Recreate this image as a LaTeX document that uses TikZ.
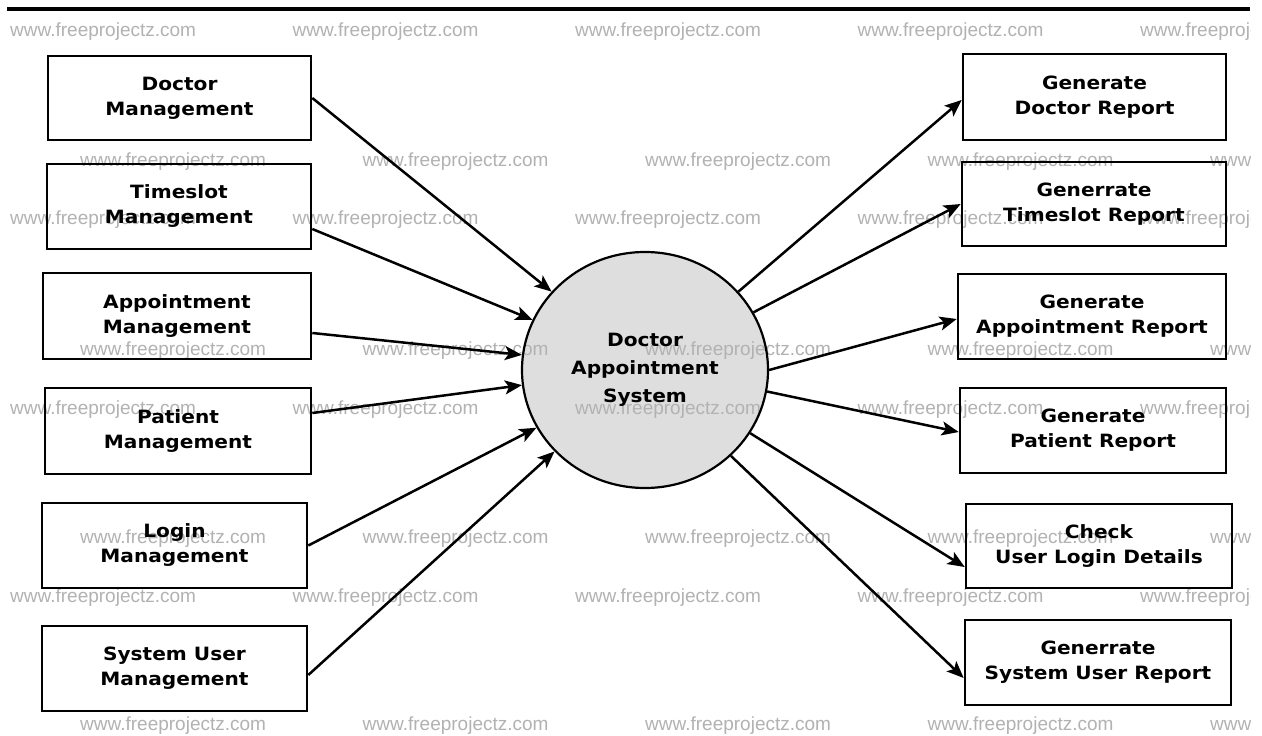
\documentclass[tikz,border=0pt]{standalone}
\usepackage{fontspec}
\newfontfamily\boxfont{DejaVu Sans}[FakeStretch=1.1]
\newfontfamily\wmfont{Liberation Sans}
\usetikzlibrary{arrows.meta,shapes.geometric}
\pgfdeclarelayer{bg}
\pgfdeclarelayer{wm}
\pgfsetlayers{bg,wm,main}
\begin{document}
\begin{tikzpicture}[x=1pt,y=-1pt,
  procbox/.style={draw, line width=2.6pt, inner sep=0pt, minimum height=85pt,
    minimum width=265pt, align=center,
    font=\boxfont\bfseries\fontsize{18.3}{25}\selectfont},
  flow/.style={line width=2.5pt, -{Stealth[length=17pt,width=14pt,inset=4pt]}},
  wmark/.style={anchor=base west, inner sep=0pt, text=black!30,
    font=\wmfont\fontsize{19}{20}\selectfont}]
\useasboundingbox (0,0) rectangle (1262,736);
\begin{pgfonlayer}{bg}
\fill[white] (0,0) rectangle (1262,736);
\end{pgfonlayer}
\draw[line width=3.5pt] (7,9) -- (1250,9);

% left boxes
\node[procbox, minimum width=263pt, minimum height=84pt] (dm) at (179.5,98) {Doctor\\Management};
\node[procbox, minimum width=264pt] (tm) at (179,206.5) {Timeslot\\Management};
\node[procbox, minimum width=268pt, minimum height=86pt] (am) at (177,316) {Appointment\\Management};
\node[procbox, minimum width=266pt, minimum height=86pt] (pm) at (178,431) {Patient\\Management};
\node[procbox] (lm) at (174.5,545.5) {Login\\Management};
\node[procbox] (sm) at (174.5,668.5) {System User\\Management};

% right boxes
\node[procbox, minimum width=263pt, minimum height=86pt] (dr) at (1094.5,97) {Generate\\Doctor Report};
\node[procbox, minimum width=264pt, minimum height=84pt] (tr) at (1094,204) {Generrate\\Timeslot Report};
\node[procbox, minimum width=268pt] (ar) at (1092,316.5) {Generate\\Appointment Report};
\node[procbox, minimum width=266pt] (pr) at (1093,430.5) {Generate\\Patient Report};
\node[procbox, minimum width=266pt, minimum height=84pt] (cr) at (1099,546) {Check\\User Login Details};
\node[procbox, minimum width=266pt] (sr) at (1098,662.5) {Generrate\\System User Report};

% centre process
\node[ellipse, draw, line width=2.2pt, minimum width=246pt,
  minimum height=236pt, inner sep=0pt, align=center,
  font=\boxfont\bfseries\fontsize{18.3}{28}\selectfont] (c) at (645,370)
  {Doctor\\Appointment\\System};
\begin{pgfonlayer}{bg}
\fill[black!13] (c.center) ellipse [x radius=123pt, y radius=118pt];
\end{pgfonlayer}

% inputs
\draw[flow] (dm.east) -- (c.140.5);
\draw[flow] ([yshift=-22.5pt]tm.east) -- (c.156.5);
\draw[flow] ([yshift=-17pt]am.east) -- (c.173.2);
\draw[flow] ([yshift=18pt]pm.east) -- (c.187.7);
\draw[flow] (lm.east) -- (c.208.2);
\draw[flow] ([yshift=-6.5pt]sm.east) -- (c.222);

% outputs
\draw[flow] (c.40) -- ([yshift=-3pt]dr.west);
\draw[flow] (c.28.2) -- (tr.west);
\draw[flow] (c.0.5) -- ([yshift=-2.5pt]ar.west);
\draw[flow] (c.-10.7) -- ([yshift=-1.5pt]pr.west);
\draw[flow] (c.-31.3) -- ([yshift=-21pt]cr.west);
\draw[flow] (c.-45) -- ([yshift=-15.5pt]sr.west);

% watermarks
\begin{pgfonlayer}{wm}
\begin{scope}
\clip (0,0) rectangle (1250,736);
\foreach \r/\yb/\xo in {A/36/10, B/166/80, C/224/10, D/355/80, E/414/10, F/543/80, G/602/10, H/730/80}
  \foreach \i in {0,...,4}
    \node[wmark] (w\r\i) at ({\xo+\i*282.5}, \yb) {www.freeprojectz.com};
\end{scope}
\end{pgfonlayer}
\end{tikzpicture}
\end{document}
